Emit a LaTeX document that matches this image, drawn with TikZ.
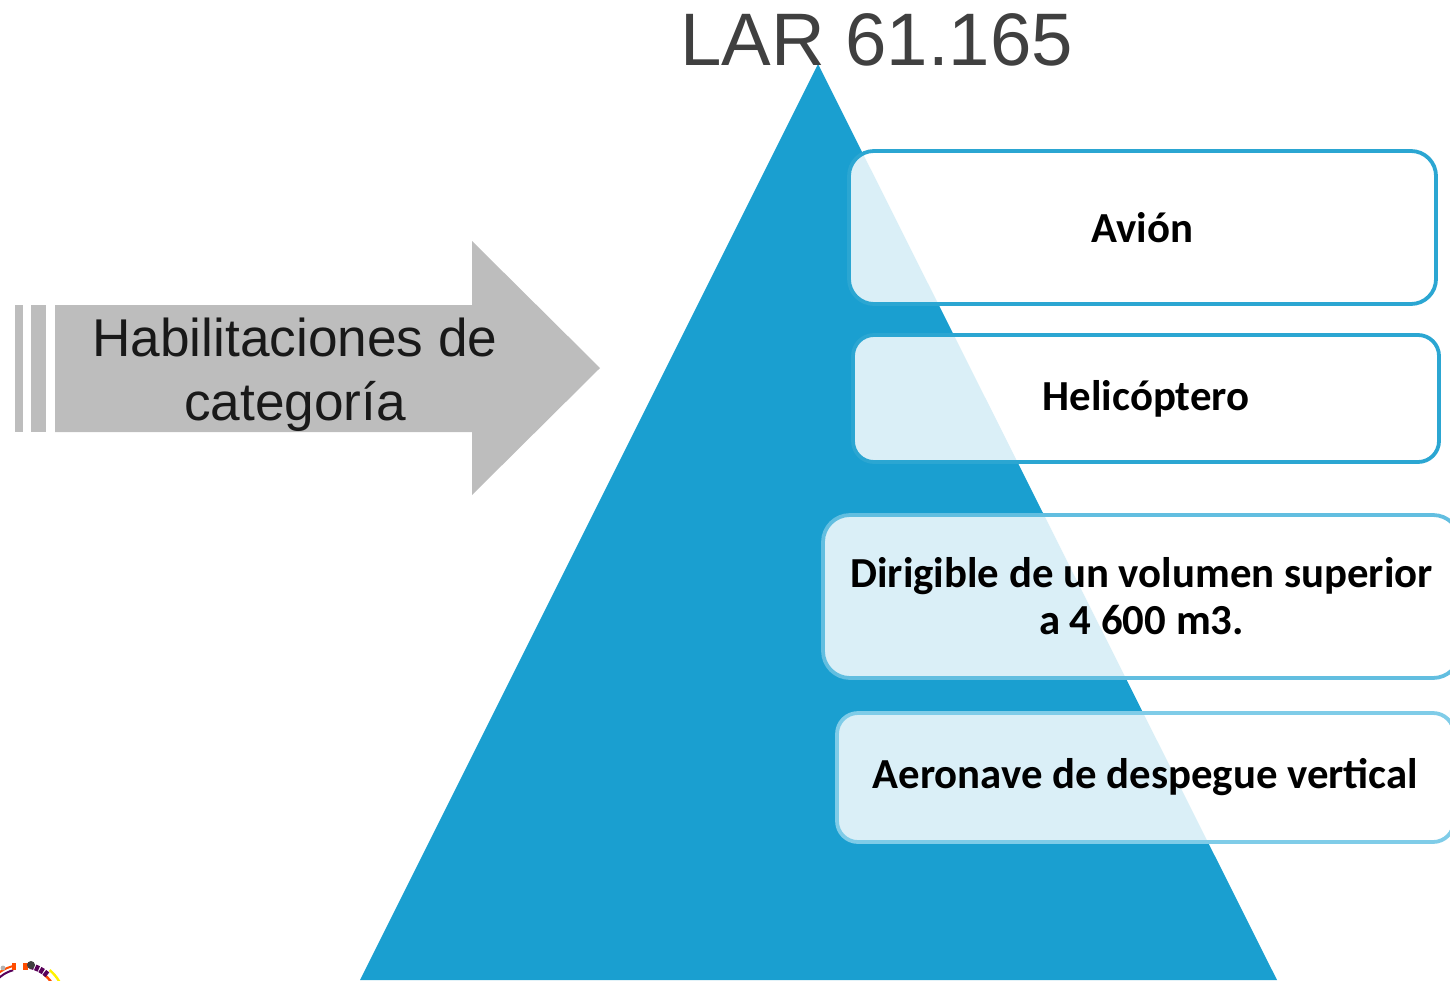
\documentclass[tikz,border=0pt]{standalone}
\usepackage{fontspec}
\setmainfont{Liberation Sans}
\newfontfamily\boxfont{Carlito}
\definecolor{pyrblue}{HTML}{1A9FD0}
\definecolor{lineone}{HTML}{2BA6D2}
\definecolor{linetwo}{HTML}{62BEE0}
\definecolor{linethree}{HTML}{7FCCE8}
\definecolor{arrowgray}{HTML}{BDBDBD}
\tikzset{
  catbox/.style={draw=lineone,line width=1.9pt,fill=white,fill opacity=0.84,text opacity=1,inner sep=0pt,align=center,font=\boxfont\fontsize{21.4}{23.5}\selectfont\bfseries},
  arrowtext/.style={align=center,text=black!90,font=\fontsize{26.6}{32}\selectfont}
}
\begin{document}
\begin{tikzpicture}[x=0.5pt,y=-0.5pt]
\useasboundingbox (0,0) rectangle (1450,980);
\fill[pyrblue] (818,64) -- (1277,980) -- (360,980) -- cycle;

\node[anchor=center,text=black!75,font=\fontsize{37.2}{40}\selectfont,inner sep=0pt] (title) at (876.5,40) {LAR 61.165};

\fill[arrowgray] (15,305) rectangle (23,432);
\fill[arrowgray] (31,305) rectangle (46,432);
\fill[arrowgray] (55,305) -- (472,305) -- (472,241) -- (600,368) -- (472,495) -- (472,432) -- (55,432) -- cycle;
\node[arrowtext] (cat) at (295,375) {Habilitaciones de\\categoría};

\node[catbox,rounded corners=12.5pt,minimum width=293.5pt,minimum height=76.5pt] (avion) at (1142.5,227.5) {Avión};
\node[catbox,rounded corners=10.5pt,minimum width=293pt,minimum height=63.5pt] (heli) at (1146,398.5) {Helicóptero};
\node[catbox,draw=linetwo,rounded corners=13.5pt,minimum width=318.5pt,minimum height=81.5pt] (dirig) at (1141.5,596.5) {Dirigible de un volumen superior\\a 4 600 m3.};
\node[catbox,draw=linethree,rounded corners=10.5pt,minimum width=308.5pt,minimum height=64.5pt] (vert) at (1145.5,777.5) {Aeronave de despegue vertical};

% logo, cut off by the page
\coordinate (logo) at (22,1003);
\draw[yellow,line width=1.2pt] ([shift={(30:21.5pt)}]logo) arc[start angle=30,end angle=50,radius=21.5pt];
\draw[orange!60!red,line width=1.2pt] ([shift={(25:18pt)}]logo) arc[start angle=25,end angle=52,radius=18pt];
\draw[violet!70!black,line width=3pt,dash pattern=on 2pt off 0.6pt] ([shift={(48:19pt)}]logo) arc[start angle=48,end angle=78,radius=19pt];
\draw[violet!70!black,line width=1pt] ([shift={(105:17pt)}]logo) arc[start angle=105,end angle=150,radius=17pt];
\draw[orange!60!red,line width=1pt] ([shift={(102:19pt)}]logo) arc[start angle=102,end angle=145,radius=19pt];
\fill[orange!60!red] (12,963) rectangle (16,970);
\fill[orange!60!red] (23,963) rectangle (28,970);
\fill[black!75] (31,965) circle[radius=2pt];
\fill[black!30] (3,968) circle[radius=1.2pt];
\end{tikzpicture}
\end{document}
